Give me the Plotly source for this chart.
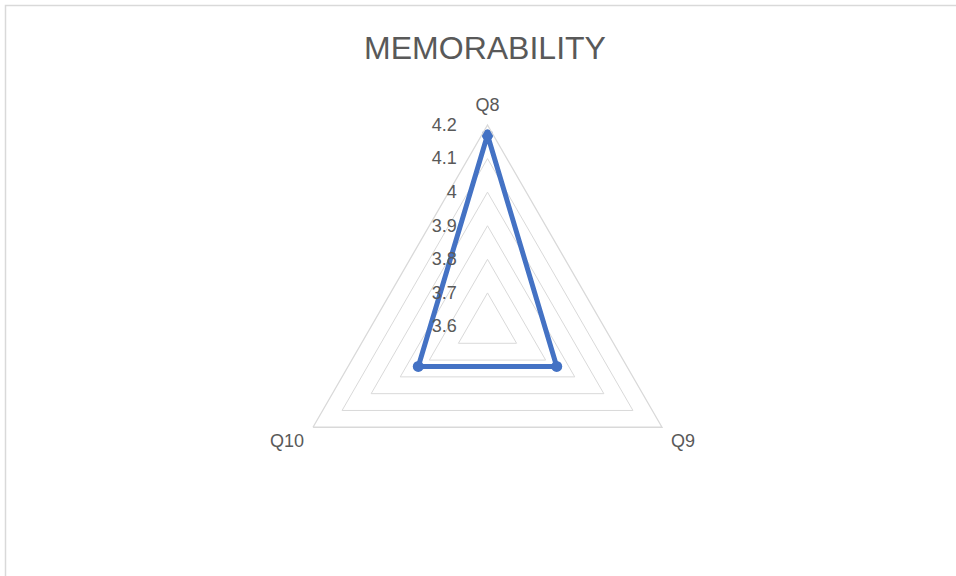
import plotly.graph_objects as go

categories = ["Q8", "Q9", "Q10"]
values = [4.17, 3.838, 3.838]
tick_vals = [3.6, 3.7, 3.8, 3.9, 4.0, 4.1, 4.2]
tick_text = ["3.6", "3.7", "3.8", "3.9", "4", "4.1", "4.2"]
title_text = "MEMORABILITY"

W, H = 956, 576
cx, cy, R = 487.5, 326.5, 201.5

fig = go.Figure()
fig.add_trace(go.Scatterpolar(
    r=values + values[:1],
    theta=categories + categories[:1],
    mode="lines+markers",
    line=dict(color="#4472C4", width=5),
    marker=dict(color="#4472C4", size=11),
    showlegend=False,
))

fig.update_layout(
    width=W, height=H,
    margin=dict(l=0, r=0, t=0, b=0),
    paper_bgcolor="white",
    plot_bgcolor="white",
    font=dict(family="Liberation Sans, Arial, sans-serif", color="#595959", size=18),
    title=dict(text=title_text, x=485 / W, y=1 - 48 / H, xanchor="center", yanchor="middle",
               font=dict(size=32, color="#595959")),
    polar=dict(
        domain=dict(x=[(cx - R) / W, (cx + R) / W], y=[1 - (cy + R) / H, 1 - (cy - R) / H]),
        bgcolor="white",
        gridshape="linear",
        radialaxis=dict(
            range=[3.6, 4.2],
            tickvals=tick_vals,
            ticktext=tick_text,
            angle=90,
            tickangle=90,
            side="counterclockwise",
            showline=False,
            ticks="outside",
            ticklen=24,
            tickcolor="rgba(0,0,0,0)",
            gridcolor="#d9d9d9",
            gridwidth=1.3,
            tickfont=dict(size=18, color="#595959"),
        ),
        angularaxis=dict(
            rotation=90,
            direction="clockwise",
            showgrid=False,
            showline=True,
            linecolor="#d9d9d9",
            linewidth=1.3,
            ticks="outside",
            ticklen=6,
            tickcolor="rgba(0,0,0,0)",
            tickfont=dict(size=18, color="#595959"),
        ),
    ),
    shapes=[dict(type="rect", xref="paper", yref="paper",
                 x0=5.5 / W, x1=1.02, y0=-0.02, y1=1 - 5.5 / H,
                 line=dict(color="#d9d9d9", width=1.5), fillcolor="rgba(0,0,0,0)")],
)

fig.write_html("out.html", config={"displayModeBar": False},
               post_script="document.body.style.margin='0';document.body.style.overflow='hidden';")
